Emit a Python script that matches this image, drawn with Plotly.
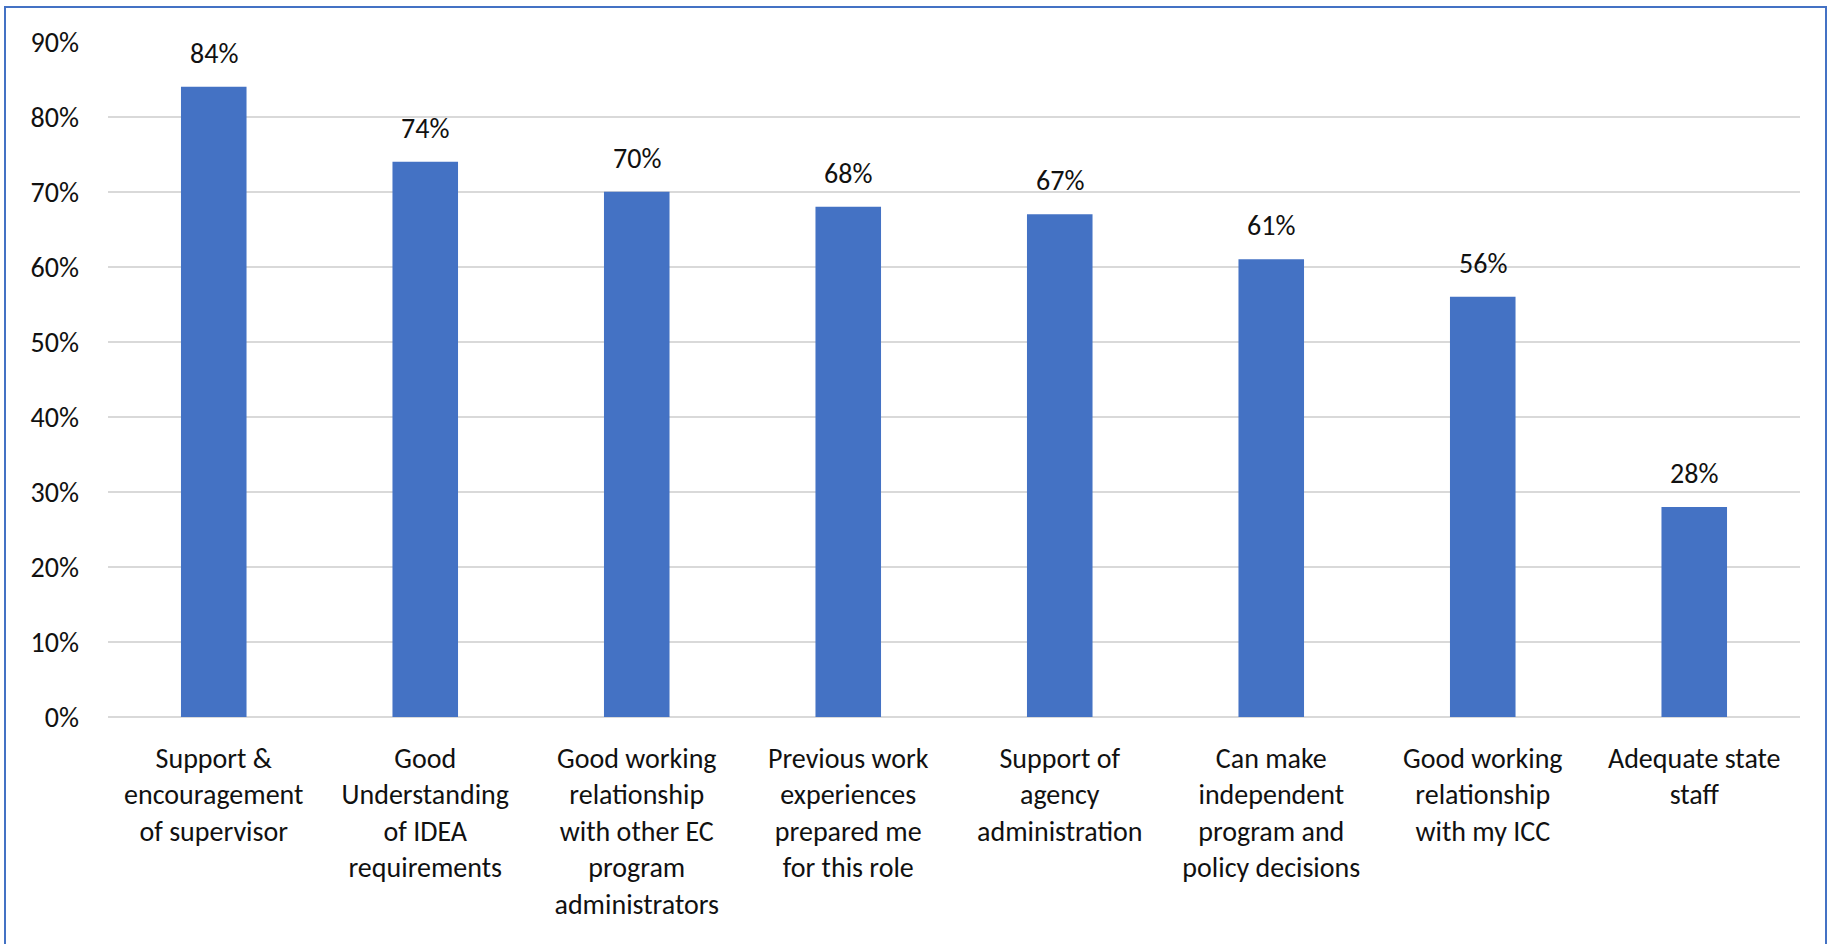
import plotly.graph_objects as go

categories = [
    "Support &<br>encouragement<br>of supervisor",
    "Good<br>Understanding<br>of IDEA<br>requirements",
    "Good working<br>relationship<br>with other EC<br>program<br>administrators",
    "Previous work<br>experiences<br>prepared me<br>for this role",
    "Support of<br>agency<br>administration",
    "Can make<br>independent<br>program and<br>policy decisions",
    "Good working<br>relationship<br>with my ICC",
    "Adequate state<br>staff",
]
values = [84, 74, 70, 68, 67, 61, 56, 28]
tick_vals = [0, 10, 20, 30, 40, 50, 60, 70, 80, 90]
tick_text = [f"{v}%" for v in tick_vals]

W, H = 1829, 944
ml, mr, mt, mb = 108, 29, 41, 227
pw, ph = W - ml - mr, H - mt - mb
FONT = "Carlito, Calibri, Lato, Open Sans, sans-serif"
TXT = "#111111"

fig = go.Figure(go.Bar(
    x=categories, y=values,
    marker=dict(color="#4472C4", line=dict(width=0)),
    width=0.31,
    hoverinfo="x+y",
))

for c, v in zip(categories, values):
    fig.add_annotation(x=c, y=v, text=f"{v}%", showarrow=False,
                       xref="x", yref="y", yanchor="bottom", yshift=14,
                       font=dict(family=FONT, size=28, color=TXT))

def px_to_paper_x(px):
    return (px - ml) / pw

def px_to_paper_y(py):
    return (H - mb - py) / ph

fig.add_shape(type="rect", xref="paper", yref="paper",
              x0=px_to_paper_x(5), x1=px_to_paper_x(1826),
              y0=px_to_paper_y(980), y1=px_to_paper_y(7),
              line=dict(color="#4472C4", width=2), fillcolor="rgba(0,0,0,0)",
              layer="below")

fig.update_layout(
    width=W, height=H,
    margin=dict(l=ml, r=mr, t=mt, b=mb),
    paper_bgcolor="white", plot_bgcolor="white",
    font=dict(family=FONT, size=28, color=TXT),
    showlegend=False,
    xaxis=dict(showgrid=False, showline=False, ticks="", tickangle=0,
               tickfont=dict(size=28), ticklabelstandoff=22),
    yaxis=dict(range=[0, 90.1], tickvals=tick_vals, ticktext=tick_text,
               showgrid=True, gridcolor="#d9d9d9", gridwidth=1.5,
               zeroline=True, zerolinecolor="#d9d9d9", zerolinewidth=1.5,
               showline=False, ticks="", tickfont=dict(size=28),
               ticklabelstandoff=28),
)

fig.write_html("out.html", config={"displayModeBar": False},
               post_script="document.body.style.margin='0';document.body.style.overflow='hidden';")
